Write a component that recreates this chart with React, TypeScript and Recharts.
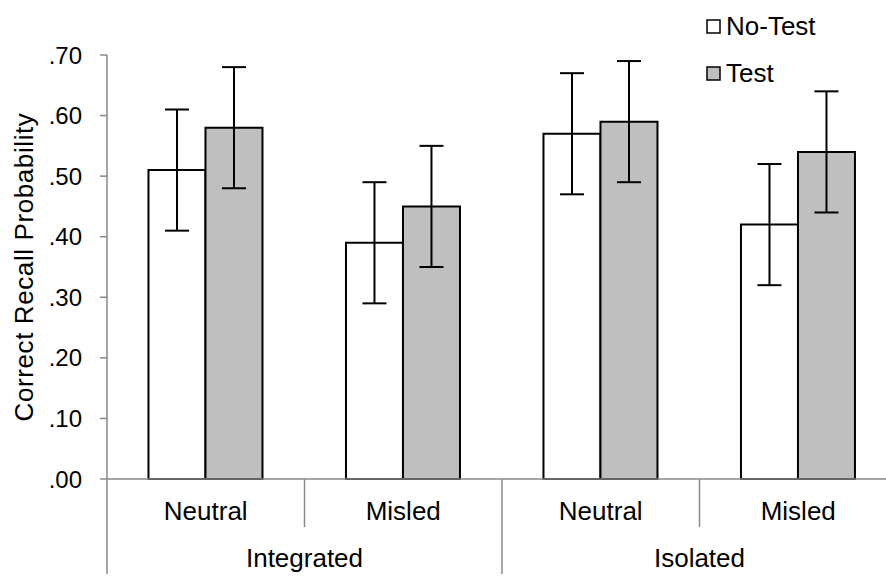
import { FC } from 'react';
import { Bar, BarChart, ErrorBar, Label, XAxis, YAxis } from 'recharts';

const categories = ['Neutral', 'Misled', 'Neutral', 'Misled'];
const groups = ['Integrated', 'Isolated'];
const noTest = [0.51, 0.39, 0.57, 0.42];
const test = [0.58, 0.45, 0.59, 0.54];
const noTestErr = [0.1, 0.1, 0.1, 0.1];
const testErr = [0.1, 0.1, 0.1, 0.1];
const yTicks = [0, 0.1, 0.2, 0.3, 0.4, 0.5, 0.6, 0.7];
const seriesNames = ['No-Test', 'Test'];
const seriesFills = ['#ffffff', '#bfbfbf'];

const data = categories.map((name, i) => ({
    name,
    group: groups[Math.floor(i / 2)],
    noTest: noTest[i],
    test: test[i],
    noTestErr: noTestErr[i],
    testErr: testErr[i],
}));

const FONT = '"Liberation Sans", Arial, sans-serif';
const AXIS = '#898989';
const WIDTH = 920;
const HEIGHT = 576;
const MARGIN = { top: 55, right: 23, bottom: 0, left: 0 };
const Y_WIDTH = 107;
const BAND = (WIDTH - MARGIN.left - MARGIN.right - Y_WIDTH) / categories.length;

const CategoryTick = (props: any) => {
    const { x, y, index, payload } = props;
    const half = payload?.offset || BAND / 2;
    const groupStart = index % 2 === 0;
    const last = index === categories.length - 1;
    return (
        <g>
            <line x1={x - half} x2={x - half} y1={y} y2={y + (groupStart ? 95 : 48)} stroke={AXIS} strokeWidth={1.5} />
            {last && <line x1={x + half} x2={x + half} y1={y} y2={y + 95} stroke={AXIS} strokeWidth={1.5} />}
            <text x={x} y={y + 41} textAnchor='middle' fontSize={26} fontFamily={FONT} fill='#000'>
                {payload.value}
            </text>
            {groupStart && (
                <text x={x + half} y={y + 88} textAnchor='middle' fontSize={26} fontFamily={FONT} fill='#000'>
                    {data[index].group}
                </text>
            )}
        </g>
    );
};

const YLabel = (props: any) => {
    const vb = props.viewBox || { x: 0, y: 0, width: 0, height: 0 };
    const cx = vb.x + 24;
    const cy = vb.y + vb.height / 2;
    return (
        <text x={cx} y={cy} transform={`rotate(-90 ${cx} ${cy})`} textAnchor='middle' dominantBaseline='central'
            fontSize={26} letterSpacing={0.6} fontFamily={FONT} fill='#000'>
            Correct Recall Probability
        </text>
    );
};

const LegendBox = () => (
    <svg width={180} height={90} style={{ position: 'absolute', left: 706, top: 8 }}>
        {seriesNames.map((n, i) => (
            <g key={n}>
                <rect x={1} y={12 + i * 47} width={13} height={13} fill={seriesFills[i]} stroke='#000' strokeWidth={1.5} />
                <text x={20} y={27 + i * 47} fontSize={26} fontFamily={FONT} fill='#000'>{n}</text>
            </g>
        ))}
    </svg>
);

const App: FC = () => {
    return (
        <div style={{ position: 'fixed', left: 0, top: 0, width: 886, height: 576, overflow: 'hidden', background: '#fff' }}>
            <BarChart
                width={WIDTH}
                height={HEIGHT}
                data={data}
                margin={MARGIN}
                barCategoryGap='21%'
                barGap={0}
            >
                <YAxis
                    width={Y_WIDTH}
                    domain={[0, 0.7]}
                    ticks={yTicks}
                    interval={0}
                    tickFormatter={(v: number) => v.toFixed(2).replace(/^0/, '')}
                    tick={{ fontSize: 24, fontFamily: FONT, fill: '#000' }}
                    axisLine={{ stroke: AXIS, strokeWidth: 1.5 }}
                    tickLine={{ stroke: AXIS, strokeWidth: 1.5 }}
                    tickSize={7}
                    tickMargin={18}
                >
                    <Label content={<YLabel />} />
                </YAxis>
                <XAxis
                    dataKey='name'
                    height={97}
                    interval={0}
                    tickLine={false}
                    tickSize={0}
                    tickMargin={0}
                    axisLine={{ stroke: AXIS, strokeWidth: 1.5 }}
                    tick={<CategoryTick />}
                />
                <Bar dataKey='noTest' name={seriesNames[0]} fill={seriesFills[0]} stroke='#000' strokeWidth={2} isAnimationActive={false}>
                    <ErrorBar dataKey='noTestErr' width={12} stroke='#000' strokeWidth={2} direction='y' />
                </Bar>
                <Bar dataKey='test' name={seriesNames[1]} fill={seriesFills[1]} stroke='#000' strokeWidth={2} isAnimationActive={false}>
                    <ErrorBar dataKey='testErr' width={12} stroke='#000' strokeWidth={2} direction='y' />
                </Bar>
            </BarChart>
            <LegendBox />
        </div>
    );
};

export default App;
